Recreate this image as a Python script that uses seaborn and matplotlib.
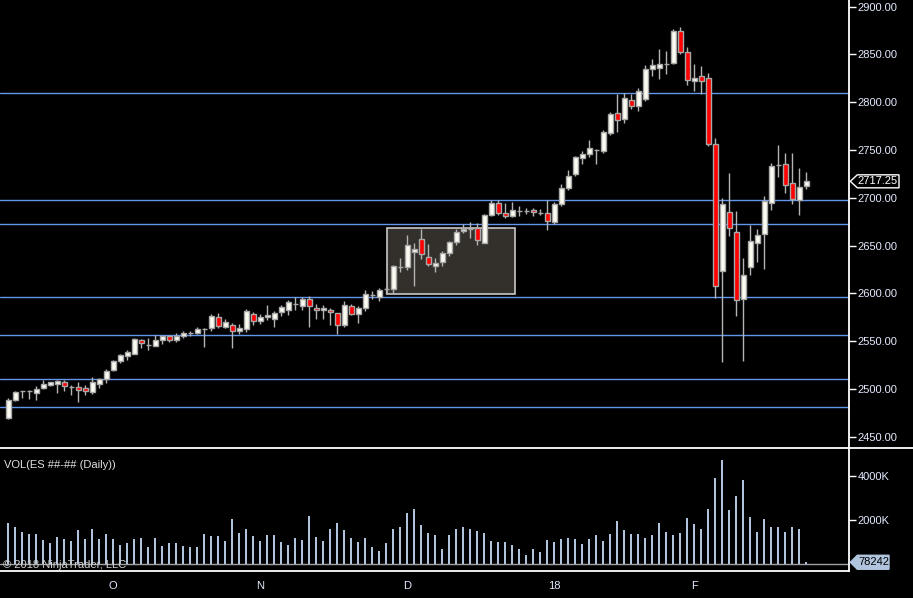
import numpy as np
import pandas as pd
import seaborn as sns
import matplotlib.pyplot as plt
import matplotlib.transforms as mtransforms
from matplotlib.patches import Rectangle, Polygon
from matplotlib.lines import Line2D

# daily OHLC
opens = [2469.9, 2488.4, 2497.5, 2497.5, 2496.1, 2501.3, 2504.5, 2505.5, 2506.9, 2502.4,
         2502.0, 2500.6, 2497.1, 2505.5, 2510.1, 2519.9, 2529.7, 2534.6, 2537.0, 2551.0,
         2546.1, 2545.4, 2550.7, 2555.6, 2550.7, 2554.9, 2559.0, 2559.0, 2562.9, 2563.6,
         2575.1, 2564.6, 2567.1, 2561.1, 2563.2, 2578.3, 2570.6, 2575.1, 2573.7, 2580.0,
         2582.1, 2589.1, 2586.3, 2594.4, 2584.6, 2582.1, 2582.5, 2579.3, 2566.4, 2587.0,
         2577.9, 2584.6, 2597.9, 2596.1, 2604.5, 2604.5, 2627.6, 2627.2, 2643.0, 2656.9,
         2638.1, 2629.0, 2632.8, 2642.3, 2654.2, 2665.0, 2667.8, 2668.1, 2652.4, 2682.5,
         2694.7, 2684.2, 2680.7, 2686.0, 2686.0, 2687.0, 2684.6, 2684.2, 2674.4, 2693.7,
         2710.1, 2724.7, 2741.5, 2745.7, 2749.9, 2748.9, 2768.1, 2789.1, 2782.4, 2802.7,
         2796.1, 2803.4, 2834.9, 2835.9, 2840.1, 2841.2, 2874.1, 2853.1, 2822.3, 2827.9,
         2825.8, 2756.6, 2623.0, 2685.2, 2664.2, 2593.6, 2627.5, 2652.4, 2661.8, 2694.3,
         2734.2, 2734.9, 2715.0, 2697.5, 2712.5]
highs = [2490.2, 2497.8, 2498.0, 2498.9, 2503.1, 2509.4, 2507.6, 2509.4, 2509.4, 2504.5,
         2507.3, 2503.8, 2512.2, 2511.5, 2520.6, 2530.4, 2536.7, 2540.5, 2553.1, 2552.4,
         2553.1, 2556.6, 2556.6, 2556.6, 2558.4, 2560.8, 2560.8, 2564.6, 2563.6, 2577.9,
         2579.7, 2573.0, 2568.8, 2567.8, 2583.9, 2580.4, 2578.6, 2588.1, 2581.8, 2588.1,
         2593.3, 2596.1, 2595.8, 2597.5, 2589.1, 2587.7, 2584.9, 2579.6, 2591.9, 2588.8,
         2587.0, 2603.8, 2602.8, 2605.5, 2606.6, 2630.0, 2637.4, 2661.5, 2652.8, 2667.8,
         2652.1, 2637.0, 2644.0, 2655.2, 2667.8, 2672.7, 2675.1, 2673.7, 2683.2, 2697.5,
         2697.5, 2694.7, 2695.8, 2691.6, 2689.5, 2689.8, 2688.4, 2697.5, 2695.8, 2714.0,
         2728.6, 2743.6, 2748.5, 2760.1, 2751.3, 2770.6, 2790.1, 2808.3, 2809.4, 2808.3,
         2814.6, 2838.7, 2845.0, 2855.5, 2853.4, 2876.5, 2878.6, 2857.3, 2839.8, 2838.0,
         2831.0, 2762.9, 2699.9, 2726.1, 2686.6, 2637.3, 2671.9, 2667.7, 2701.7, 2736.6,
         2754.8, 2747.1, 2747.1, 2730.7, 2727.5]
lows = [2468.8, 2487.7, 2490.5, 2489.8, 2488.4, 2500.3, 2503.1, 2496.1, 2498.2, 2493.6,
        2486.7, 2493.6, 2494.7, 2501.3, 2506.6, 2519.2, 2527.2, 2530.7, 2536.7, 2543.0,
        2541.2, 2545.4, 2546.5, 2548.6, 2549.3, 2552.8, 2554.9, 2557.6, 2544.4, 2561.1,
        2563.6, 2563.9, 2543.0, 2557.6, 2559.7, 2567.1, 2568.1, 2572.3, 2564.3, 2575.8,
        2577.6, 2582.8, 2582.1, 2565.3, 2573.7, 2573.0, 2566.4, 2558.0, 2564.6, 2576.9,
        2569.5, 2581.1, 2594.4, 2591.6, 2599.6, 2599.6, 2622.0, 2624.1, 2607.3, 2636.0,
        2629.0, 2622.0, 2628.3, 2639.5, 2651.0, 2663.2, 2658.3, 2651.0, 2652.4, 2681.4,
        2682.5, 2678.6, 2679.7, 2681.4, 2682.8, 2681.4, 2682.1, 2666.7, 2673.0, 2691.2,
        2708.0, 2722.6, 2735.9, 2742.6, 2735.9, 2747.1, 2766.0, 2768.8, 2778.2, 2792.6,
        2790.8, 2801.3, 2827.6, 2824.1, 2829.6, 2840.1, 2850.6, 2818.1, 2811.8, 2808.7,
        2754.1, 2595.0, 2528.6, 2659.7, 2576.8, 2529.6, 2619.5, 2633.1, 2625.8, 2687.7,
        2721.6, 2704.8, 2693.3, 2681.7, 2708.7]
closes = [2488.4, 2496.4, 2497.5, 2497.5, 2500.0, 2505.2, 2506.9, 2508.3, 2503.4, 2502.4,
          2499.2, 2497.5, 2506.9, 2510.1, 2518.8, 2529.3, 2535.3, 2538.8, 2552.4, 2547.9,
          2546.1, 2551.0, 2555.6, 2551.7, 2555.6, 2558.4, 2559.0, 2562.5, 2562.9, 2576.5,
          2565.4, 2569.9, 2561.1, 2563.9, 2581.8, 2570.6, 2575.5, 2577.6, 2579.3, 2585.6,
          2590.9, 2589.1, 2594.4, 2586.3, 2582.5, 2584.9, 2580.0, 2567.4, 2587.7, 2577.9,
          2584.9, 2599.3, 2597.9, 2603.5, 2604.5, 2628.6, 2627.6, 2650.7, 2646.5, 2640.9,
          2630.4, 2631.8, 2642.3, 2653.8, 2664.3, 2667.8, 2667.8, 2655.6, 2682.1, 2694.7,
          2684.2, 2681.1, 2687.0, 2686.0, 2686.0, 2685.3, 2684.6, 2675.8, 2693.0, 2710.5,
          2723.0, 2742.2, 2746.1, 2752.4, 2749.9, 2769.2, 2788.0, 2781.4, 2804.1, 2796.1,
          2811.5, 2835.2, 2839.4, 2840.5, 2840.1, 2874.1, 2853.1, 2823.7, 2825.8, 2822.3,
          2756.6, 2607.6, 2694.0, 2668.1, 2592.9, 2619.1, 2654.8, 2661.1, 2697.1, 2733.8,
          2734.2, 2713.6, 2698.5, 2711.4, 2717.25]
# daily volume in thousands of contracts
volume_k = [1880, 1700, 1440, 1350, 1350, 1080, 950, 1210, 1130, 1040,
            1530, 1130, 1570, 1130, 1350, 1130, 860, 950, 1130, 1170,
            770, 1170, 810, 950, 950, 810, 770, 770, 1350, 1260,
            1260, 1040, 2060, 1390, 1570, 1260, 1040, 1300, 1300, 990,
            860, 1170, 1080, 2190, 1210, 1040, 1570, 1880, 1530, 1170,
            990, 1170, 770, 590, 950, 1570, 1660, 2320, 2500, 1750,
            1390, 1300, 680, 1300, 1610, 1660, 1570, 1480, 1390, 1040,
            990, 990, 860, 680, 410, 680, 550, 1080, 990, 1130,
            1170, 1130, 900, 1130, 1300, 1040, 1350, 1970, 1530, 1350,
            1350, 1170, 1300, 1880, 1440, 1300, 1390, 2100, 1840, 1610,
            2500, 3920, 4720, 2460, 3080, 3830, 2150, 1440, 2060, 1660,
            1700, 1440, 1660, 1610, 78.242]

month_pos = [15, 36, 57, 78, 98]
month_labels = ['O', 'N', 'D', '18', 'F']
levels = [2810, 2697.5, 2672.5, 2596, 2556, 2510, 2481]
zone_start, zone_end = 54.15, 72.35
zone_low, zone_high = 2599.0, 2668.5
last_price = 2717.25
last_volume = 78242

df = pd.DataFrame({'open': opens, 'high': highs, 'low': lows,
                   'close': closes, 'vol': volume_k})
df['bar'] = np.arange(len(df))

sns.set_style('dark', {'axes.facecolor': 'black', 'figure.facecolor': 'black',
                       'axes.grid': False})
plt.rcParams['font.family'] = ['Liberation Sans', 'DejaVu Sans']
txt = '#e4eaff'

W, H = 913, 598
fig = plt.figure(figsize=(W / 100, H / 100), dpi=100)
fig.patch.set_facecolor('black')
axis_x = 849.3
ax = fig.add_axes([0, 1 - 447.7 / H, axis_x / W, 447.7 / H])
vax = fig.add_axes([0, 1 - 571.3 / H, axis_x / W, (571.3 - 447.7) / H])

xlim = (-1.186, 120.14)

# ---- price pane
for lv in levels:
    ax.axhline(lv, color='#6495ed', lw=1.0, zorder=1)
ax.add_patch(Rectangle((zone_start, zone_low), zone_end - zone_start, zone_high - zone_low,
                       facecolor='#332f2b', edgecolor='#c8c8c8', lw=1.2, zorder=1.5))
ax.vlines(df['bar'], df['low'], df['high'], color='#b4b4b4', lw=1, zorder=2)
up = df['close'] >= df['open']
body_lo = df[['open', 'close']].min(axis=1)
body_h = (df['close'] - df['open']).abs()
ax.bar(df['bar'], body_h, bottom=body_lo, width=0.72,
       color=np.where(up, '#fbfbf2', '#ff0000'), edgecolor='#a8a8a8', lw=1, zorder=3)

ax.set_xlim(*xlim)
ax.set_ylim(2438.5, 2907.0)
ax.yaxis.tick_right()
ax.set_yticks(np.arange(2450, 2901, 50))
ax.set_yticklabels([f'{v:.2f}' for v in np.arange(2450, 2901, 50)])
ax.set_xticks([])
ax.tick_params(axis='y', colors='white', labelcolor=txt, length=5, width=1,
               direction='out', pad=1, labelsize=8)
for s in ['top', 'left', 'bottom']:
    ax.spines[s].set_visible(False)
ax.spines['right'].set_color('white')
ax.spines['right'].set_linewidth(1.3)

# ---- volume pane
sns.barplot(data=df, x='bar', y='vol', native_scale=True, width=0.32, color='#b0c4de',
            saturation=1, errorbar=None, linewidth=0, ax=vax, zorder=2)
vax.axhline(0, color='#a0a0a0', lw=1, zorder=1)
vax.set_xlim(*xlim)
vax.set_ylim(-332, 5286)
vax.yaxis.tick_right()
vax.set_yticks([2000, 4000])
vax.set_yticklabels(['2000K', '4000K'])
vax.set_xticks(month_pos)
vax.set_xticklabels(month_labels)
vax.set_xlabel('')
vax.set_ylabel('')
vax.tick_params(axis='both', colors='white', labelcolor=txt, length=5, width=1,
                direction='out', pad=1, labelsize=8)
vax.tick_params(axis='x', pad=2)
for s in ['top', 'left']:
    vax.spines[s].set_visible(False)
for s in ['right', 'bottom']:
    vax.spines[s].set_color('white')
    vax.spines[s].set_linewidth(1.3)

vax.text(4 / axis_x, 1 - (465 - 447.7) / 123.6, 'VOL(ES ##-## (Daily))', transform=vax.transAxes,
         color='#e0e0e0', fontsize=8, va='center', ha='left')
vax.text(3 / axis_x, 1 - (565 - 447.7) / 123.6, '\u00a9 2018 NinjaTrader, LLC', transform=vax.transAxes,
         color='#d0d0d0', fontsize=8, va='center', ha='left', zorder=5)

# separator between panes spans full width
sep_y = 1 - 447.7 / H
fig.add_artist(Line2D([0, 1], [sep_y, sep_y], color='white', lw=1.3, transform=fig.transFigure))

# last price / last volume markers on the axis
ident = mtransforms.IdentityTransform()
yd = ax.transData.transform((0, last_price))[1]
tip = axis_x + 1
fig.add_artist(Polygon([(tip, yd), (tip + 7, yd + 6.5), (899, yd + 6.5), (899, yd - 6.5),
                        (tip + 7, yd - 6.5)], closed=True, facecolor='black',
                       edgecolor='white', lw=1, transform=ident))
fig.text(tip + 7.5, yd, f'{last_price:.2f}', transform=ident, color='white',
         fontsize=8, va='center', ha='left')
yv = vax.transData.transform((0, last_volume / 1000))[1]
fig.add_artist(Polygon([(tip, yv), (tip + 7, yv + 7), (889, yv + 7), (889, yv - 7),
                        (tip + 7, yv - 7)], closed=True, facecolor='#b0c4de',
                       edgecolor='#b0c4de', lw=1, transform=ident))
fig.text(tip + 8, yv, f'{last_volume}', transform=ident, color='black',
         fontsize=8, va='center', ha='left')

fig.savefig('out.png', dpi=100, facecolor='black')
